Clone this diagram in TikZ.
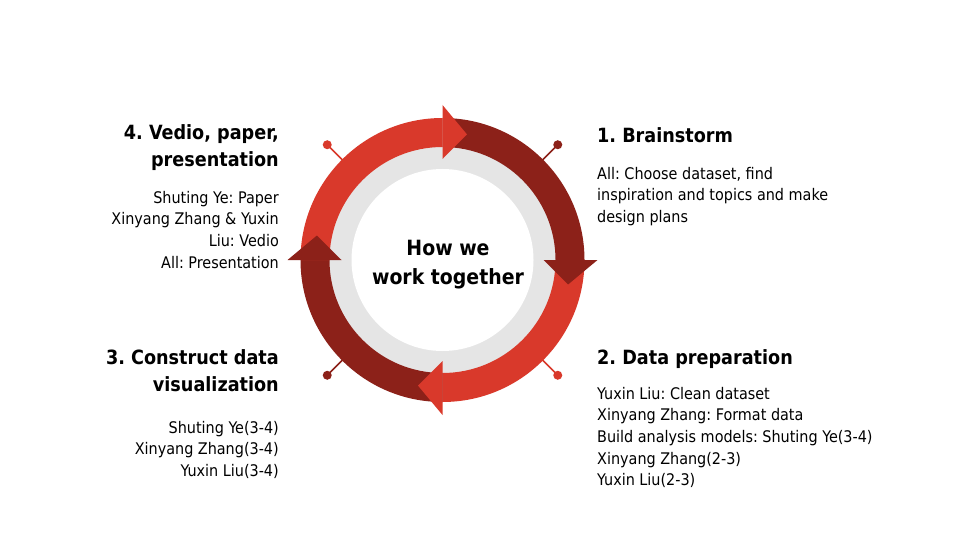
\documentclass[tikz,border=0pt]{standalone}
\usepackage{fontspec}
\setmainfont{DejaVu Sans Condensed}
\frenchspacing
\begin{document}
\begin{tikzpicture}[x=1pt,y=1pt,
  redA/.style={fill={rgb,255:red,217;green,57;blue,43}},
  redB/.style={fill={rgb,255:red,140;green,33;blue,25}},
  title/.style={font=\bfseries\fontsize{19.6}{25}\selectfont, inner sep=0pt, text=black},
  body/.style={font=\fontsize{16}{20}\selectfont, inner sep=0pt, text=black},
  hub/.style={font=\bfseries\fontsize{21}{25}\selectfont, inner sep=0pt, text=black}]
\definecolor{cA}{RGB}{217,57,43}
\definecolor{cB}{RGB}{140,33,25}
\useasboundingbox[fill=white] (0,0) rectangle (960,-540);

% ---- cycle wheel ----
\begin{scope}[shift={(442.5,-260)}]
  % pins on the diagonals
  \foreach \a/\c in {135/cA, 45/cB, 225/cB, 315/cA}{
    \draw[\c, line width=1.6pt] (\a:138) -- (\a:163);
    \fill[\c] (\a:163) circle[radius=4.5];
  }
  % grey ring and white hub
  \fill[gray!20] (0,0) circle[radius=114];
  \fill[white] (0,0) circle[radius=91];
  % arrow bands (clockwise)
  \foreach \s/\e/\st in {90/0/redB, 0/-90/redA, -90/-180/redB, 180/90/redA}{
    \fill[\st] (\s:142) arc[start angle=\s, end angle=\e, radius=142]
      -- (\e:113) arc[start angle=\e, end angle=\s, radius=113] -- cycle;
  }
  % arrow heads
  \foreach \e/\st in {0/redB, -90/redA, -180/redB, 90/redA}{
    \fill[\st] (\e:101) -- (\e:155) -- (\e-11:128) -- cycle;
  }
\end{scope}

\node[hub, anchor=base] (hub1) at (448,-255) {How we};
\node[hub, anchor=base] (hub2) at (448,-284) {work together};

% ---- 1. Brainstorm ----
\node[title, anchor=base west] (t1) at (597,-143) {1. Brainstorm};
\foreach \t [count=\i] in {{All: Choose dataset, find},{inspiration and topics and make},{design plans}}
  \node[body, anchor=base west] (b1-\i) at (597,{-179-21.7*(\i-1)}) {\t};

% ---- 2. Data preparation ----
\node[title, anchor=base west] (t2) at (597,-364) {2. Data preparation};
\foreach \t [count=\i] in {{Yuxin Liu: Clean dataset},{Xinyang Zhang: Format data},{Build analysis models: Shuting Ye(3-4)},{Xinyang Zhang(2-3)},{Yuxin Liu(2-3)}}
  \node[body, anchor=base west] (b2-\i) at (597,{-399-21.7*(\i-1)}) {\t};

% ---- 3. Construct data visualization ----
\node[title, anchor=base east] (t3a) at (279,-364) {3. Construct data};
\node[title, anchor=base east] (t3b) at (279,-391) {visualization};
\foreach \t [count=\i] in {{Shuting Ye(3-4)},{Xinyang Zhang(3-4)},{Yuxin Liu(3-4)}}
  \node[body, anchor=base east] (b3-\i) at (279,{-433-21.7*(\i-1)}) {\t};

% ---- 4. Vedio, paper, presentation ----
\node[title, anchor=base east] (t4a) at (279,-140) {4. Vedio, paper,};
\node[title, anchor=base east] (t4b) at (279,-167) {presentation};
\foreach \t [count=\i] in {{Shuting Ye: Paper},{Xinyang Zhang \& Yuxin},{Liu: Vedio},{All: Presentation}}
  \node[body, anchor=base east] (b4-\i) at (279,{-203-21.7*(\i-1)}) {\t};
\end{tikzpicture}
\end{document}
